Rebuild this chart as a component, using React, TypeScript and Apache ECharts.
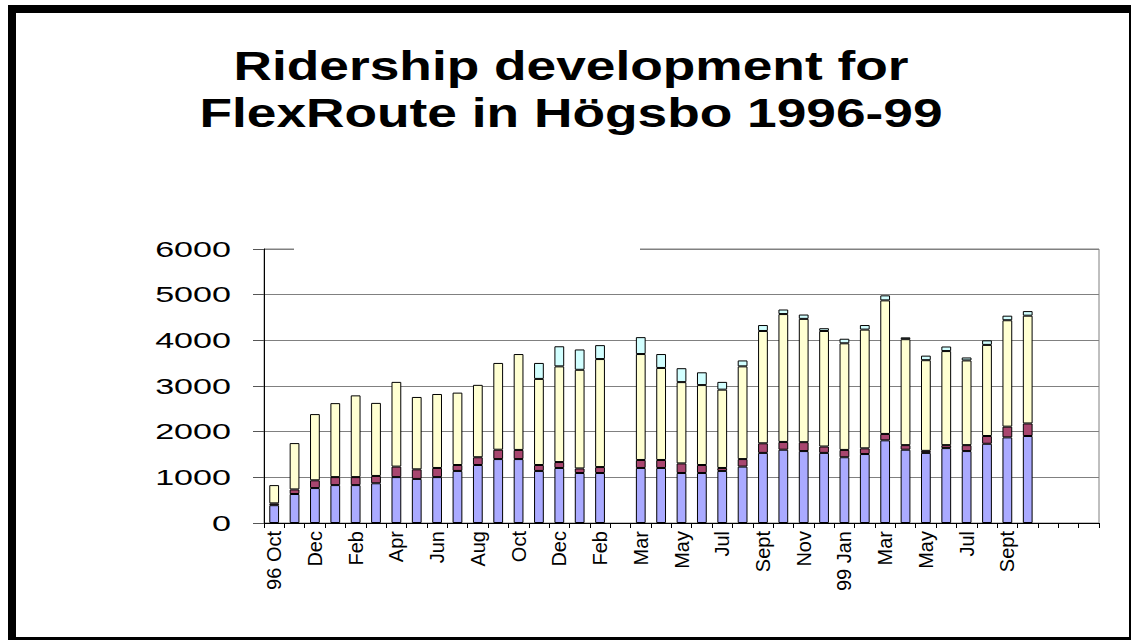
import React, { useEffect, useRef } from 'react';
import * as echarts from 'echarts';

const categories = [
  '96 Oct', 'Nov', 'Dec', 'Jan', 'Feb', 'Mar', 'Apr', 'May', 'Jun', 'Jul', 'Aug', 'Sep',
  'Oct', 'Nov', 'Dec', 'Jan', 'Feb', '', 'Mar', 'Apr', 'May', 'Jun', 'Jul', 'Aug', 'Sept',
  'Oct', 'Nov', 'Dec', '99 Jan', 'Feb', 'Mar', 'Apr', 'May', 'Jun', 'Jul', 'Aug', 'Sept',
  'Oct', '', '', '',
];

const blueValues = [
  390, 635, 765, 830, 830, 870, 1005, 965, 1005, 1140, 1270, 1400, 1400, 1140, 1205, 1095, 1095,
  null, 1205, 1205, 1095, 1095, 1140, 1235, 1535, 1605, 1575, 1535, 1440, 1510, 1810, 1605, 1535,
  1640, 1575, 1735, 1875, 1905, null, null, null,
];

const purpleValues = [
  40, 100, 170, 175, 175, 160, 230, 210, 200, 130, 170, 205, 200, 130, 130, 100, 130,
  null, 175, 175, 210, 175, 65, 165, 210, 170, 195, 140, 160, 125, 140, 100, 45,
  65, 130, 170, 235, 275, null, null, null,
];

const yellowValues = [
  400, 1015, 1450, 1620, 1790, 1600, 1855, 1585, 1620, 1585, 1585, 1900, 2100, 1885, 2095, 2160, 2365,
  null, 2320, 2015, 1780, 1750, 1715, 2030, 2460, 2800, 2700, 2530, 2335, 2600, 2925, 2320, 1985,
  2060, 1855, 1995, 2330, 2360, null, null, null,
];

const cyanValues = [
  null, null, null, null, null, null, null, null, null, null, null, null, null, 350, 440, 445, 305,
  null, 370, 305, 305, 280, 170, 130, 130, 100, 95, 60, 100, 100, 110, 40, 100,
  100, 65, 100, 100, 100, null, null, null,
];

const yTicks = [0, 1000, 2000, 3000, 4000, 5000, 6000];
const titleLines = ['Ridership development for', 'FlexRoute in Högsbo 1996-99'];

export default function App() {
  const ref = useRef<HTMLDivElement>(null);

  useEffect(() => {
    const chart = echarts.init(ref.current as HTMLDivElement, null, { renderer: 'svg' });

    const mk = (name: string, data: (number | null)[], color: string) => ({
      type: 'bar',
      name,
      stack: 'total',
      data,
      barWidth: '48%',
      itemStyle: { color, borderColor: '#000', borderWidth: 1 },
      emphasis: { disabled: true },
    });

    chart.setOption({
      animation: false,
      grid: {
        left: 264,
        right: 32,
        top: 249,
        bottom: 117,
        show: true,
        borderColor: '#808080',
        borderWidth: 1,
        backgroundColor: 'transparent',
      },
      xAxis: {
        type: 'category',
        data: categories,
        boundaryGap: true,
        axisLine: { show: true, lineStyle: { color: '#000', width: 1 } },
        axisTick: { show: true, inside: false, length: 5, interval: 0, lineStyle: { color: '#000' } },
        axisLabel: {
          interval: 1,
          rotate: 90,
          margin: 8,
          color: '#000',
          fontSize: 20,
          fontFamily: '"Liberation Sans Narrow", "Liberation Sans", Arial, sans-serif',
        },
        splitLine: { show: false },
      },
      yAxis: {
        type: 'value',
        min: 0,
        max: 6000,
        interval: 1000,
        axisLine: { show: true, lineStyle: { color: '#000', width: 1 } },
        axisTick: { show: true, inside: false, length: 11, lineStyle: { color: '#555' } },
        axisLabel: { show: false },
        splitLine: { show: true, lineStyle: { color: '#808080', width: 1 } },
      },
      series: [
        mk('Series 1', blueValues, '#AAAAFF'),
        mk('Series 2', purpleValues, '#A8466F'),
        mk('Series 3', yellowValues, '#FFFFD2'),
        mk('Series 4', cyanValues, '#D2FFFF'),
      ],
    });

    const c0 = chart.convertToPixel({ xAxisIndex: 0 }, 0) as number;
    const c1 = chart.convertToPixel({ xAxisIndex: 0 }, 1) as number;
    const axisX = c0 - (c1 - c0) / 2;
    const yTop = chart.convertToPixel({ yAxisIndex: 0 }, 6000) as number;

    const graphics: any[] = [];
    // outer frame
    graphics.push({ type: 'rect', shape: { x: 8, y: 5, width: 1123, height: 8 }, style: { fill: '#000' }, z: 100 });
    graphics.push({ type: 'rect', shape: { x: 8, y: 5, width: 8, height: 635 }, style: { fill: '#000' }, z: 100 });
    graphics.push({ type: 'rect', shape: { x: 1129, y: 5, width: 2, height: 635 }, style: { fill: '#000' }, z: 100 });
    graphics.push({ type: 'rect', shape: { x: 8, y: 637, width: 1123, height: 3 }, style: { fill: '#000' }, z: 100 });
    // title box covering part of the top gridline
    graphics.push({ type: 'rect', shape: { x: 294, y: yTop - 4, width: 346, height: 8 }, style: { fill: '#fff' }, z: 100 });

    titleLines.forEach((t, i) => {
      graphics.push({
        type: 'text',
        x: 571,
        y: 66 + i * 47,
        scaleX: 1.3,
        z: 101,
        style: {
          text: t,
          x: 0,
          y: 0,
          align: 'center',
          verticalAlign: 'middle',
          fill: '#000',
          fontSize: 41,
          fontWeight: 'bold',
          fontFamily: '"Liberation Sans", Arial, sans-serif',
        },
      });
    });

    yTicks.forEach((v) => {
      const py = chart.convertToPixel({ yAxisIndex: 0 }, v) as number;
      graphics.push({
        type: 'text',
        x: axisX - 33,
        y: py,
        scaleX: 1.55,
        z: 101,
        style: {
          text: String(v),
          x: 0,
          y: 0,
          align: 'right',
          verticalAlign: 'middle',
          fill: '#000',
          fontSize: 22,
          fontFamily: '"Liberation Sans", Arial, sans-serif',
        },
      });
    });

    chart.setOption({ graphic: graphics });

    return () => {
      chart.dispose();
    };
  }, []);

  return (
    <div
      ref={ref}
      style={{ position: 'fixed', left: 0, top: 0, width: 1131, height: 640, background: '#fff' }}
    />
  );
}
